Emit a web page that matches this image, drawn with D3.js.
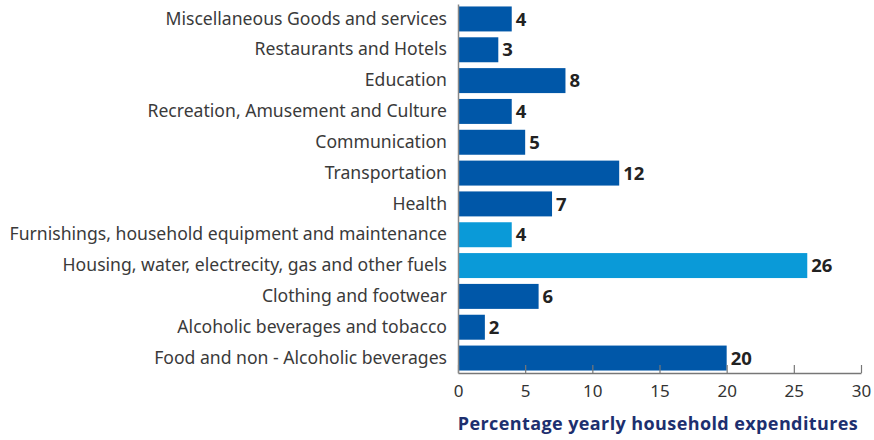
<!DOCTYPE html>
<html>
<head>
<meta charset="utf-8">
<script src="https://cdn.jsdelivr.net/npm/d3@7"></script>
<style>
  body { margin: 0; background: #fff; }
  .cat text { font-family: "Noto Sans", sans-serif; font-size: 17.6px; fill: #3a3a3a; }
  .val { font-family: "Open Sans", sans-serif; font-weight: bold; font-size: 18.5px; fill: #222; }
  .xaxis text { font-family: "Noto Sans", sans-serif; font-size: 17px; fill: #333; }
  .title { font-family: "Open Sans", sans-serif; font-weight: bold; font-size: 18px; letter-spacing: 0.4px; fill: #1d2f6f; }
</style>
</head>
<body>
<div id="chart"></div>
<script>
// categories top to bottom
var categories = [
  "Miscellaneous Goods and services",
  "Restaurants and Hotels",
  "Education",
  "Recreation, Amusement and Culture",
  "Communication",
  "Transportation",
  "Health",
  "Furnishings, household equipment and maintenance",
  "Housing, water, electrecity, gas and other fuels",
  "Clothing and footwear",
  "Alcoholic beverages and tobacco",
  "Food and non - Alcoholic beverages"
];
var values = [4, 3, 8, 4, 5, 12, 7, 4, 26, 6, 2, 20];
var highlighted = [false, false, false, false, false, false, false, true, true, false, false, false];
var xTicks = [0, 5, 10, 15, 20, 25, 30];

var svgWidth = 874;
var svgHeight = 440;
var margin = { top: 4, right: 13, bottom: 67, left: 458 };
var width = svgWidth - margin.left - margin.right;
var height = svgHeight - margin.top - margin.bottom;

var svg = d3.select("#chart")
  .append("svg")
  .attr("width", svgWidth)
  .attr("height", svgHeight);

var chartGroup = svg.append("g")
  .attr("transform", `translate(${margin.left}, ${margin.top})`);

var xScale = d3.scaleLinear()
  .domain([0, 30])
  .range([0, width]);

var yScale = d3.scaleBand()
  .domain(categories)
  .range([0, height])
  .paddingInner(0.19)
  .paddingOuter(0.08);

// bars
chartGroup.selectAll("rect.bar")
  .data(categories)
  .enter()
  .append("rect")
  .attr("class", "bar")
  .attr("x", 0)
  .attr("y", d => yScale(d))
  .attr("width", (d, i) => xScale(values[i]))
  .attr("height", yScale.bandwidth())
  .attr("fill", (d, i) => highlighted[i] ? "#0a9ad8" : "#0057a8");

// value labels
chartGroup.selectAll("text.val")
  .data(categories)
  .enter()
  .append("text")
  .attr("class", "val")
  .attr("x", (d, i) => xScale(values[i]) + 4)
  .attr("y", d => yScale(d) + yScale.bandwidth() / 2)
  .attr("dy", "0.36em")
  .text((d, i) => values[i]);

// x axis with inward ticks
var bottomAxis = d3.axisBottom(xScale)
  .tickValues(xTicks)
  .tickSizeInner(-8)
  .tickSizeOuter(0)
  .tickPadding(12);

var xAxisG = chartGroup.append("g")
  .attr("class", "xaxis")
  .attr("transform", `translate(0, ${height})`)
  .call(bottomAxis);
xAxisG.select(".domain").attr("stroke", "#777").attr("stroke-width", 1.5);
xAxisG.selectAll(".tick line").attr("stroke", "#777").attr("stroke-width", 1.2);

// y axis: only line + category labels
var leftAxis = d3.axisLeft(yScale).tickSize(0).tickPadding(11);
var yAxisG = chartGroup.append("g")
  .attr("class", "cat")
  .call(leftAxis);
yAxisG.select(".domain").attr("stroke", "#888").attr("stroke-width", 1.5);

// axis title
svg.append("text")
  .attr("class", "title")
  .attr("x", 658)
  .attr("y", 430)
  .attr("text-anchor", "middle")
  .text("Percentage yearly household expenditures");
</script>
</body>
</html>
